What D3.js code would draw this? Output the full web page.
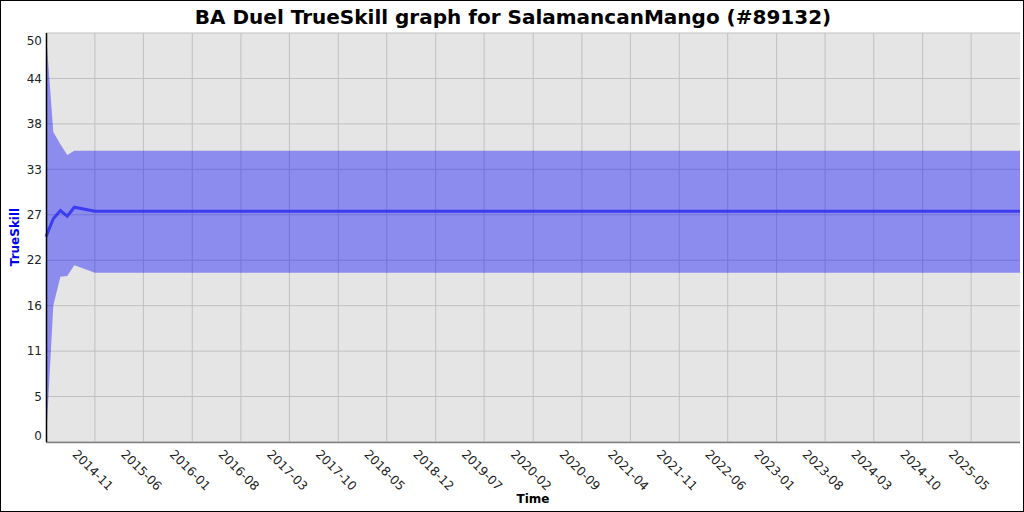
<!DOCTYPE html>
<html>
<head>
<meta charset="utf-8">
<script src="https://cdn.jsdelivr.net/npm/d3@7"></script>
<style>
  body { margin: 0; background: #fff; }
  svg { display: block; font-family: "DejaVu Sans", sans-serif; }
</style>
</head>
<body>
<svg width="1024" height="512"></svg>
<script>
// rating history (dates, mean, upper/lower band)
const dates = ['2014-04-15', '2014-05-17', '2014-06-17', '2014-07-17', '2014-08-17', '2014-11-15', '2025-12-15'];
const mu    = [25.1, 27.3, 28.3, 27.6, 28.7, 28.2, 28.2];
const upper = [50, 37.9, 36.4, 35.1, 35.6, 35.6, 35.6];
const lower = [0, 16.7, 20.2, 20.3, 21.6, 20.7, 20.7];

const xTickLabels = ['2014-11', '2015-06', '2016-01', '2016-08', '2017-03', '2017-10', '2018-05',
  '2018-12', '2019-07', '2020-02', '2020-09', '2021-04', '2021-11', '2022-06', '2023-01',
  '2023-08', '2024-03', '2024-10', '2025-05'];
const yTicks = d3.range(10).map(i => 50 * i / 9);

const W = 1024, H = 512;
const margin = {top: 33, right: 4, bottom: 70, left: 46};
const parse = d3.timeParse('%Y-%m-%d');

const svg = d3.select('svg');

const data = dates.map((d, i) => ({date: parse(d), mu: mu[i], hi: upper[i], lo: lower[i]}));

const x = d3.scaleTime()
  .domain([parse('2014-04-15'), parse('2025-12-15')])
  .range([margin.left, W - margin.right]);
const y = d3.scaleLinear()
  .domain([0, 50])
  .range([H - margin.bottom, margin.top]);

// frame
svg.append('rect')
  .attr('x', 0.5).attr('y', 0.5)
  .attr('width', W - 1).attr('height', H - 1)
  .attr('fill', '#fff').attr('stroke', '#000');

// plot background
svg.append('rect')
  .attr('x', margin.left).attr('y', margin.top)
  .attr('width', W - margin.right - margin.left)
  .attr('height', H - margin.bottom - margin.top)
  .attr('fill', '#e5e5e5');

// grid
const xTickDates = xTickLabels.map(s => parse(s + '-15'));
svg.append('g')
  .selectAll('line')
  .data(xTickDates)
  .join('line')
  .attr('x1', d => x(d)).attr('x2', d => x(d))
  .attr('y1', margin.top).attr('y2', H - margin.bottom)
  .attr('stroke', '#c0c0c0').attr('stroke-width', 1);

svg.append('g')
  .selectAll('line')
  .data(yTicks)
  .join('line')
  .attr('x1', margin.left).attr('x2', W - margin.right)
  .attr('y1', d => y(d)).attr('y2', d => y(d))
  .attr('stroke', '#c0c0c0').attr('stroke-width', 1);

// uncertainty band
const area = d3.area()
  .x(d => x(d.date))
  .y0(d => y(d.lo))
  .y1(d => y(d.hi));
svg.append('path')
  .datum(data)
  .attr('d', area)
  .attr('fill', 'rgba(0,0,255,0.39)');

// mean line
const line = d3.line()
  .x(d => x(d.date))
  .y(d => y(d.mu));
svg.append('path')
  .datum(data)
  .attr('d', line)
  .attr('fill', 'none')
  .attr('stroke', 'rgba(40,40,240,0.8)')
  .attr('stroke-width', 3);

// axes lines
svg.append('line')
  .attr('x1', margin.left).attr('x2', W - margin.right)
  .attr('y1', H - margin.bottom + 0.5).attr('y2', H - margin.bottom + 0.5)
  .attr('stroke', '#808080').attr('stroke-width', 1.5);
svg.append('line')
  .attr('x1', margin.left + 0.5).attr('x2', margin.left + 0.5)
  .attr('y1', margin.top).attr('y2', H - margin.bottom)
  .attr('stroke', '#000').attr('stroke-width', 1.5);

// y tick labels (floored, kept inside the plot at the ends)
svg.append('g')
  .selectAll('text')
  .data(yTicks)
  .join('text')
  .attr('x', margin.left - 4)
  .attr('y', d => Math.min(H - margin.bottom - 6, Math.max(margin.top + 8, y(d))))
  .attr('dy', '0.35em')
  .attr('text-anchor', 'end')
  .attr('font-size', 12)
  .attr('fill', '#222')
  .text(d => Math.floor(d + 1e-9));

// x tick labels
svg.append('g')
  .selectAll('text')
  .data(xTickDates)
  .join('text')
  .attr('transform', d => 'translate(' + (x(d) - 2) + ',' + 470 + ') rotate(45)')
  .attr('dy', '0.35em')
  .attr('text-anchor', 'middle')
  .attr('font-size', 12.3)
  .attr('fill', '#222')
  .text((d, i) => xTickLabels[i]);

// titles
svg.append('text')
  .attr('x', W / 2 + 1).attr('y', 24)
  .attr('text-anchor', 'middle')
  .attr('font-size', 20).attr('font-weight', 'bold')
  .text('BA Duel TrueSkill graph for SalamancanMango (#89132)');

svg.append('text')
  .attr('x', 533).attr('y', 503)
  .attr('text-anchor', 'middle')
  .attr('font-size', 12).attr('font-weight', 'bold')
  .text('Time');

svg.append('text')
  .attr('transform', 'translate(19,237) rotate(-90)')
  .attr('text-anchor', 'middle')
  .attr('font-size', 12).attr('font-weight', 'bold')
  .attr('fill', '#0000ee')
  .text('TrueSkill');
</script>
</body>
</html>
